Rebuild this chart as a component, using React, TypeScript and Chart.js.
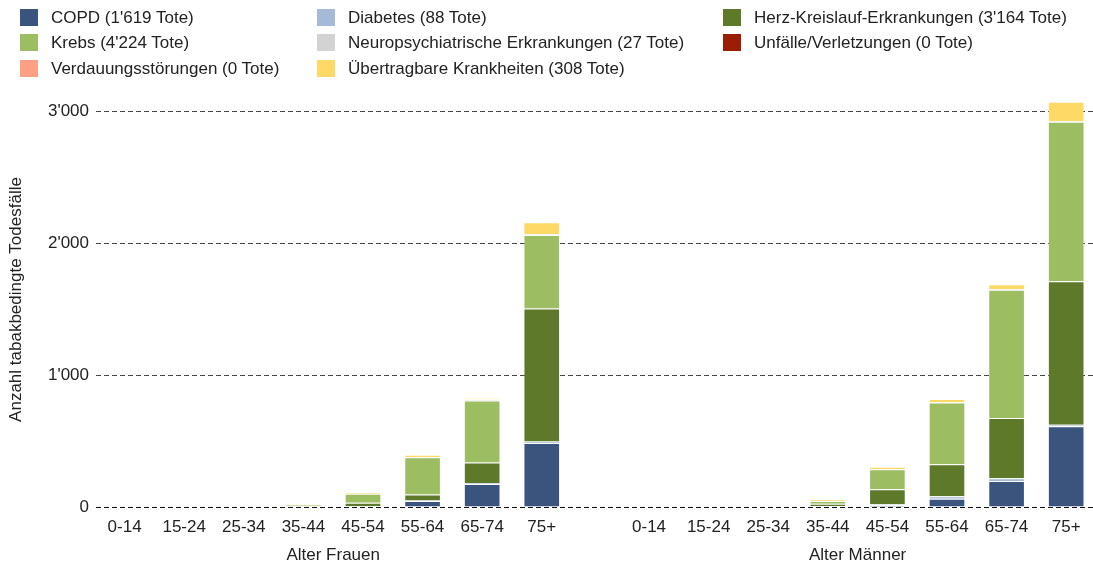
import React, { useEffect, useRef } from 'react';
import { Chart, registerables } from 'chart.js';

Chart.register(...registerables);

const AGE_GROUPS = ['0-14', '15-24', '25-34', '35-44', '45-54', '55-64', '65-74', '75+'];
const GROUP_TITLES = ['Alter Frauen', 'Alter Männer'];
const Y_TICKS = [0, 1000, 2000, 3000];
const Y_MAX = 3150;

// Frauen / Männer values per age group
const COPD_F = [0, 0, 0, 0, 4, 45, 175, 485];
const COPD_M = [0, 0, 0, 5, 13, 62, 198, 612];
const DIABETES_F = [0, 0, 0, 0, 1, 4, 7, 12];
const DIABETES_M = [0, 0, 0, 2, 8, 20, 21, 13];
const HERZ_F = [0, 0, 0, 5, 27, 46, 156, 1010];
const HERZ_M = [0, 0, 0, 18, 114, 243, 456, 1088];
const KREBS_F = [0, 0, 0, 12, 68, 283, 471, 557];
const KREBS_M = [0, 0, 0, 20, 152, 468, 974, 1212];
const NEURO_F = [0, 0, 0, 0, 0, 2, 8, 6];
const NEURO_M = [0, 0, 0, 0, 0, 2, 5, 4];
const UNFAELLE_F = [0, 0, 0, 0, 0, 0, 0, 0];
const UNFAELLE_M = [0, 0, 0, 0, 0, 0, 0, 0];
const VERDAUUNG_F = [0, 0, 0, 0, 0, 0, 0, 0];
const VERDAUUNG_M = [0, 0, 0, 0, 0, 0, 0, 0];
const UEBERTRAGBAR_F = [0, 0, 0, 4, 14, 17, 11, 92];
const UEBERTRAGBAR_M = [0, 0, 0, 12, 19, 24, 36, 147];

const SERIES_LABELS = [
  "COPD (1'619 Tote)",
  'Diabetes (88 Tote)',
  "Herz-Kreislauf-Erkrankungen (3'164 Tote)",
  "Krebs (4'224 Tote)",
  'Neuropsychiatrische Erkrankungen (27 Tote)',
  'Unfälle/Verletzungen (0 Tote)',
  'Verdauungsstörungen (0 Tote)',
  'Übertragbare Krankheiten (308 Tote)',
];
const SERIES_COLORS = ['#3b547d', '#a6b9d6', '#5d7929', '#9dbd63', '#d3d3d3', '#9c1d06', '#ffa085', '#ffd966'];
const SERIES_F = [COPD_F, DIABETES_F, HERZ_F, KREBS_F, NEURO_F, UNFAELLE_F, VERDAUUNG_F, UEBERTRAGBAR_F];
const SERIES_M = [COPD_M, DIABETES_M, HERZ_M, KREBS_M, NEURO_M, UNFAELLE_M, VERDAUUNG_M, UEBERTRAGBAR_M];

// layout of the two panels on a linear x scale (category units)
const GROUP_OFFSETS = [0, 8.8];
const X_MIN = -0.48;
const X_MAX = 16.25;

// Legend grid (3 columns)
const LEGEND_COLS = [20, 317, 723];
const LEGEND_ROWS = [9, 34, 60];

const FONT = "'Liberation Sans', Arial, Helvetica, sans-serif";
const FONT_SIZE = 17;
const TEXT_COLOR = '#222';

const fmt = (v: number) => String(v).replace(/\B(?=(\d{3})+(?!\d))/g, "'");

const groupTitlePlugin = {
  id: 'groupTitles',
  afterDraw(chart: any) {
    const x = chart.scales.x;
    const n = AGE_GROUPS.length;
    const ctx = chart.ctx;
    ctx.save();
    ctx.font = `${FONT_SIZE}px ${FONT}`;
    ctx.fillStyle = TEXT_COLOR;
    ctx.textAlign = 'center';
    ctx.textBaseline = 'middle';
    GROUP_TITLES.forEach((t, g) => {
      const off = GROUP_OFFSETS[g];
      const cx = (x.getPixelForValue(off) + x.getPixelForValue(off + n - 1)) / 2;
      ctx.fillText(t, cx, x.bottom + 19);
    });
    ctx.restore();
  },
};

export default function App() {
  const canvasRef = useRef<HTMLCanvasElement | null>(null);

  useEffect(() => {
    document.body.style.margin = '0';
    const tickPositions: number[] = [];
    const tickLabels: string[] = [];
    GROUP_OFFSETS.forEach((off) => {
      AGE_GROUPS.forEach((a, i) => {
        tickPositions.push(off + i);
        tickLabels.push(a);
      });
    });
    const datasets = SERIES_LABELS.map((label, i) => ({
      label,
      data: [
        ...SERIES_F[i].map((y, k) => ({ x: GROUP_OFFSETS[0] + k, y })),
        ...SERIES_M[i].map((y, k) => ({ x: GROUP_OFFSETS[1] + k, y })),
      ],
      backgroundColor: SERIES_COLORS[i],
      borderColor: 'rgba(255,255,255,0.12)',
      borderWidth: 1,
      borderSkipped: 'start' as const,
      categoryPercentage: 1,
      barPercentage: 0.615,
    }));

    const chart = new Chart(canvasRef.current as HTMLCanvasElement, {
      type: 'bar',
      data: { datasets },
      plugins: [groupTitlePlugin],
      options: {
        responsive: false,
        animation: false,
        layout: { padding: { top: 92, bottom: 33, left: 0, right: 0 } },
        plugins: { legend: { display: false }, tooltip: { enabled: false } },
        scales: {
          x: {
            type: 'linear',
            stacked: true,
            offset: false,
            position: 'bottom',
            min: X_MIN,
            max: X_MAX,
            afterBuildTicks: (s: any) => { s.ticks = tickPositions.map((v) => ({ value: v })); },
            grid: { display: false, drawTicks: false, offset: false },
            border: { display: false },
            ticks: {
              color: TEXT_COLOR,
              font: { family: FONT, size: FONT_SIZE },
              padding: 10,
              autoSkip: false,
              maxRotation: 0,
              callback: (v: any, i: number) => tickLabels[i] ?? '',
            },
            afterFit: (s: any) => { s.height = 29; },
          },
          y: {
            type: 'linear',
            stacked: true,
            min: 0,
            max: Y_MAX,
            afterBuildTicks: (s: any) => { s.ticks = Y_TICKS.map((v) => ({ value: v })); },
            afterFit: (s: any) => { s.width = 96; },
            border: { display: false, dash: [5, 3] },
            grid: {
              drawTicks: false,
              color: (ctx: any) => (ctx.tick && ctx.tick.value === 0 ? '#111' : '#444'),
              lineWidth: 1,
            },
            ticks: {
              color: TEXT_COLOR,
              font: { family: FONT, size: FONT_SIZE },
              padding: 7,
              callback: (v: any) => fmt(Number(v)),
            },
            title: {
              display: true,
              text: 'Anzahl tabakbedingte Todesfälle',
              color: TEXT_COLOR,
              font: { family: FONT, size: FONT_SIZE },
              padding: { top: 6, bottom: 0 },
            },
          },
        },
      } as any,
    });
    return () => chart.destroy();
  }, []);

  return (
    <div style={{ position: 'absolute', left: 0, top: 0, width: 1093, height: 569, fontFamily: FONT }}>
      <canvas ref={canvasRef} width={1093} height={569} style={{ position: 'absolute', left: 0, top: 0 }} />
      {SERIES_LABELS.map((label, i) => {
        const col = i % 3;
        const row = Math.floor(i / 3);
        return (
          <div
            key={label}
            style={{
              position: 'absolute',
              left: LEGEND_COLS[col],
              top: LEGEND_ROWS[row],
              height: 17,
              display: 'flex',
              alignItems: 'center',
              whiteSpace: 'nowrap',
              fontSize: FONT_SIZE,
              color: TEXT_COLOR,
            }}
          >
            <span style={{ display: 'inline-block', width: 18, height: 17, background: SERIES_COLORS[i], marginRight: 13 }} />
            <span>{label}</span>
          </div>
        );
      })}
    </div>
  );
}
